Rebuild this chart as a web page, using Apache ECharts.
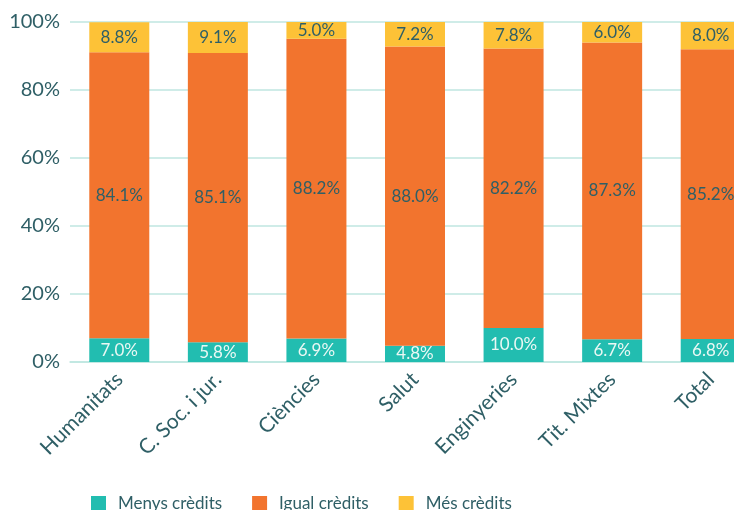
<!DOCTYPE html>
<html>
<head>
<meta charset="utf-8">
<script src="https://cdn.jsdelivr.net/npm/echarts@6/dist/echarts.min.js"></script>
<style>
  html, body { margin: 0; padding: 0; background: #fff; }
  #chart { width: 734px; height: 510px; }
</style>
</head>
<body>
<div id="chart"></div>
<script>
  // categories and values
  var categories = ['Humanitats', 'C. Soc. i jur.', 'Ciències', 'Salut', 'Enginyeries', 'Tit. Mixtes', 'Total'];
  var menys = [7.0, 5.8, 6.9, 4.8, 10.0, 6.7, 6.8];
  var igual = [84.1, 85.1, 88.2, 88.0, 82.2, 87.3, 85.2];
  var mes = [8.8, 9.1, 5.0, 7.2, 7.8, 6.0, 8.0];
  var seriesNames = ['Menys crèdits', 'Igual crèdits', 'Més crèdits'];
  var yTicks = [0, 20, 40, 60, 80, 100];

  var font = 'Lato';
  var textColor = '#2f5f66';

  function pct(p) { return p.value.toFixed(1) + '%'; }

  function barSeries(name, data, color, labelColor) {
    return {
      name: name,
      type: 'bar',
      stack: 'total',
      barWidth: 60,
      data: data,
      itemStyle: { color: color },
      label: {
        show: true,
        position: 'inside',
        formatter: pct,
        color: labelColor,
        fontFamily: font,
        fontSize: 17
      }
    };
  }

  var chart = echarts.init(document.getElementById('chart'));
  chart.setOption({
    animation: false,
    // the plot runs past the right edge of the picture
    grid: { left: 70, width: 690, top: 22, height: 340, outerBoundsMode: 'none', containLabel: false },
    legend: {
      data: seriesNames,
      left: 91,
      top: 495,
      padding: 0,
      icon: 'rect',
      itemWidth: 15,
      itemHeight: 15,
      itemGap: 30,
      textStyle: { color: textColor, fontFamily: font, fontSize: 17, padding: [0, 0, 0, 7] }
    },
    xAxis: {
      type: 'category',
      data: categories,
      axisLine: { lineStyle: { color: '#bfe6e0', width: 1.5 } },
      axisTick: { show: false },
      axisLabel: {
        rotate: 45,
        interval: 0,
        margin: 14,
        color: textColor,
        fontFamily: font,
        fontSize: 21
      }
    },
    yAxis: {
      type: 'value',
      min: 0,
      max: 100,
      interval: 20,
      axisLine: { show: false },
      axisTick: { show: false },
      splitLine: { lineStyle: { color: '#bfe6e0', width: 1.5 } },
      axisLabel: {
        margin: 10,
        color: textColor,
        fontFamily: font,
        fontSize: 20,
        formatter: function (v) { return yTicks.indexOf(v) >= 0 ? v + '%' : ''; }
      }
    },
    series: [
      barSeries(seriesNames[0], menys, '#22bdb0', '#eaf8f4'),
      barSeries(seriesNames[1], igual, '#f2742e', textColor),
      barSeries(seriesNames[2], mes, '#fdc237', textColor)
    ]
  });
</script>
</body>
</html>
